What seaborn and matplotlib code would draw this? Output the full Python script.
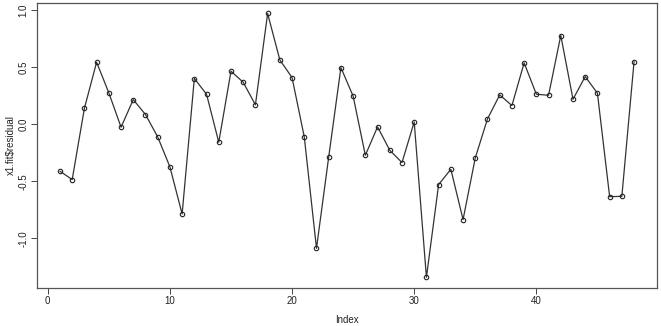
import numpy as np
import pandas as pd
import matplotlib
matplotlib.use("Agg")
import matplotlib.pyplot as plt
import seaborn as sns

# residuals
index = list(range(1, 49))
residual = [-0.412, -0.485, 0.140, 0.544, 0.275, -0.026, 0.216, 0.085, -0.111, -0.374,
            -0.787, 0.401, 0.263, -0.158, 0.465, 0.368, 0.170, 0.971, 0.564, 0.409,
            -0.111, -1.088, -0.287, 0.497, 0.246, -0.272, -0.023, -0.228, -0.336, 0.020,
            -1.342, -0.529, -0.395, -0.836, -0.295, 0.047, 0.257, 0.164, 0.538, 0.263,
            0.254, 0.778, 0.219, 0.418, 0.272, -0.635, -0.632, 0.550]
x_ticks = [0, 10, 20, 30, 40]
y_ticks = [-1.0, -0.5, 0.0, 0.5, 1.0]

df = pd.DataFrame({"Index": index, "res": residual})

sns.set_style("white")
plt.rcParams['font.family'] = ['Liberation Sans', 'DejaVu Sans']

fig = plt.figure(figsize=(6.61, 3.26), dpi=100)
ax = fig.add_axes([0.056, 0.117, 0.938, 0.874])

sns.lineplot(data=df, x="Index", y="res", ax=ax, color="#333333", linewidth=0.9,
             marker="o", markersize=3.2, markerfacecolor="none",
             markeredgecolor="#222222", markeredgewidth=0.8)

pad_x = 0.04 * (max(index) - min(index))
pad_y = 0.04 * (max(residual) - min(residual))
ax.set_xlim(min(index) - pad_x, max(index) + pad_x)
ax.set_ylim(min(residual) - pad_y, max(residual) + pad_y)

ax.set_xticks(x_ticks)
ax.set_yticks(y_ticks)
ax.set_yticklabels([f"{v:.1f}" for v in y_ticks], rotation=90, va="center")
ax.tick_params(axis="both", direction="out", length=4, width=0.7, color="#444444",
               labelsize=7, labelcolor="#222222", left=True, bottom=True, pad=2)

for s in ax.spines.values():
    s.set_color("#555555")
    s.set_linewidth(0.9)

ax.set_xlabel("Index", fontsize=7, color="#222222", va="center")
ax.set_ylabel(r"x1.fit\$residual", fontsize=7, color="#222222", va="center")
ax.xaxis.set_label_coords(0.5, -0.112)
ax.yaxis.set_label_coords(-0.042, 0.5)

fig.savefig("out.png", dpi=100)
